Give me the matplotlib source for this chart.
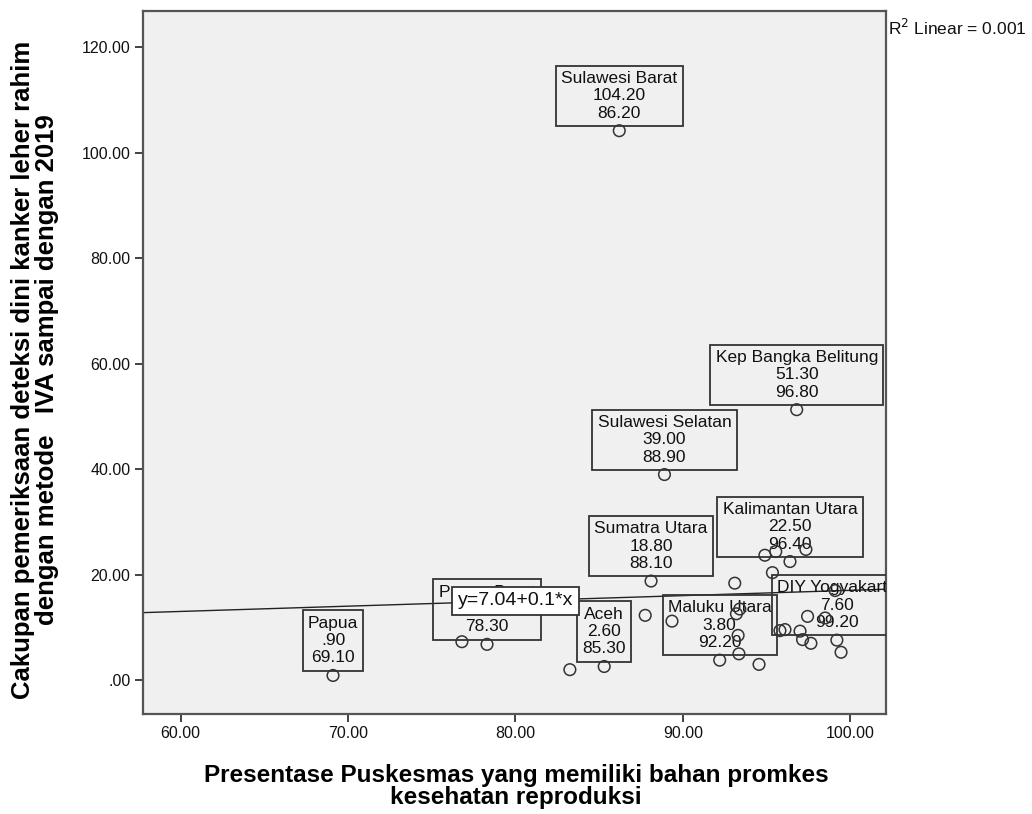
#!/usr/bin/env python
"""Scatter of IVA screening coverage vs Puskesmas with reproductive-health promo material (SPSS look)."""
import matplotlib
matplotlib.use("Agg")
import matplotlib.pyplot as plt
from matplotlib.ticker import FuncFormatter

# x: % Puskesmas with promkes material, y: IVA screening coverage up to 2019
PKM = [69.10, 78.30, 76.80, 83.25, 85.30, 87.75, 88.10, 88.90, 86.20, 89.35,
       92.20, 93.10, 93.40, 93.20, 93.30, 93.35, 94.55, 94.90, 95.55, 96.40,
       97.35, 95.35, 96.80, 99.10, 97.45, 98.50, 95.80, 96.10, 97.00, 97.15,
       97.65, 99.20, 99.45]
IVA = [0.90, 6.80, 7.30, 2.00, 2.60, 12.30, 18.80, 39.00, 104.20, 11.20,
       3.80, 18.40, 13.50, 12.60, 8.50, 5.00, 3.00, 23.70, 24.40, 22.50,
       24.80, 20.40, 51.30, 17.00, 12.10, 11.80, 9.40, 9.60, 9.30, 7.70,
       7.00, 7.60, 5.30]
NAMES = ["Papua", "Papua Barat", "", "", "Aceh", "", "Sumatra Utara",
         "Sulawesi Selatan", "Sulawesi Barat", "", "Maluku Utara", "", "", "",
         "", "", "", "", "", "Kalimantan Utara", "", "", "Kep Bangka Belitung",
         "", "", "", "", "", "", "", "", "DIY Yogyakarta", ""]

FIT_A, FIT_B = 7.04, 0.1
R2 = 0.001
XTICKS = [60, 70, 80, 90, 100]
YTICKS = [0, 20, 40, 60, 80, 100, 120]

XLABEL = "Presentase Puskesmas yang memiliki bahan promkes\nkesehatan reproduksi"
YLABEL = ("Cakupan pemeriksaan deteksi dini kanker leher rahim\n"
          "dengan metode   IVA sampai dengan 2019")

BASE = ["Liberation Sans", "DejaVu Sans"]
DARK = "#333333"


def spss(v, _pos=None):
    s = f"{v:.2f}"
    if s.startswith("0."):
        s = s[1:]
    return s


plt.rcParams["font.family"] = BASE
fig = plt.figure(figsize=(10.32, 8.14), dpi=100)
ax = fig.add_axes([0.1386, 0.1229, 0.7200, 0.8636])
ax.set_facecolor("#f0f0f0")

ax.set_xlim(57.75, 102.14)
ax.set_ylim(-6.4, 126.9)

# fit line
xs = [57.75, 102.14]
ax.plot(xs, [FIT_A + FIT_B * v for v in xs], color="#222222", lw=1.0, zorder=2)

ax.scatter(PKM, IVA, s=70, facecolors="none", edgecolors=DARK, linewidths=1.1, zorder=4)

for x, y, name in zip(PKM, IVA, NAMES):
    if not name:
        continue
    ax.annotate(f"{name}\n{spss(y)}\n{spss(x)}", (x, y), xytext=(0, 10),
                textcoords="offset pixels", ha="center", va="bottom",
                fontsize=12.5, linespacing=1.2, color="#111111", zorder=3,
                bbox=dict(boxstyle="square,pad=0.3", fc="none", ec=DARK, lw=1.3),
                annotation_clip=False, clip_on=True)

ax.text(80, FIT_A + FIT_B * 80, "y=7.04+0.1*x", ha="center", va="center",
        fontsize=14, color="#111111", zorder=6,
        bbox=dict(boxstyle="square,pad=0.3", fc="white", ec=DARK, lw=1.3))

ax.set_xticks(XTICKS)
ax.set_yticks(YTICKS)
ax.xaxis.set_major_formatter(FuncFormatter(spss))
ax.yaxis.set_major_formatter(FuncFormatter(spss))
ax.tick_params(direction="out", length=6, width=1.3, color=DARK,
               labelsize=11.5, labelcolor="#111111", pad=3)
for sp in ax.spines.values():
    sp.set_color("#555555")
    sp.set_linewidth(1.6)

fig.text(0.50, 0.034, XLABEL, ha="center", va="center", fontsize=17.5,
         fontweight="bold", linespacing=0.95)
fig.text(0.034, 0.5455, YLABEL, ha="center", va="center", rotation=90,
         fontsize=18.5, fontweight="bold", linespacing=0.98)
fig.text(0.8605, 0.978, f"R$^2$ Linear = {R2:.3f}", ha="left", va="top",
         fontsize=12.5, color="#111111")

fig.savefig("out.png", dpi=100)
